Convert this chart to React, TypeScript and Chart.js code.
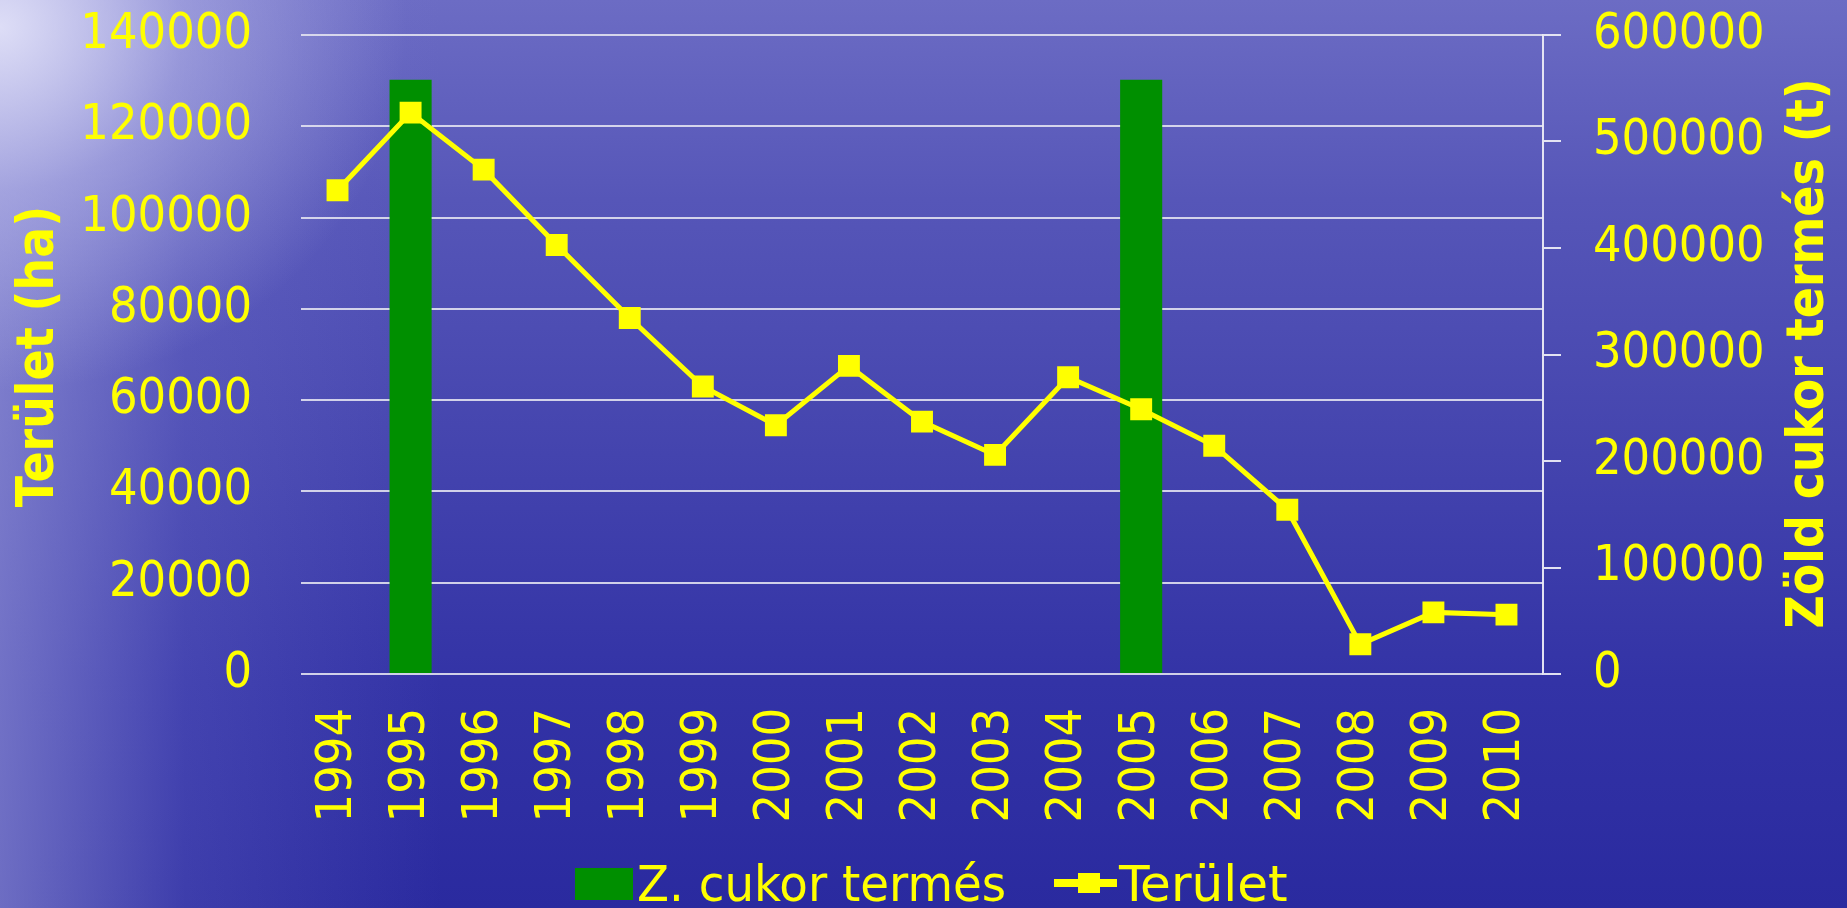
import React, { useEffect, useRef } from "react";
import { Chart, registerables } from "chart.js";

Chart.register(...registerables);

const years = ["1994","1995","1996","1997","1998","1999","2000","2001","2002","2003","2004","2005","2006","2007","2008","2009","2010"];
const teruletHa = [106000,123000,110500,94000,78000,63000,54500,67500,55300,48000,65000,58000,50000,36000,6500,13500,13000];
const cukorTermesT = [null,558000,null,null,null,null,null,null,null,null,null,558000,null,null,null,null,null];
const leftAxisMax = 140000;
const leftAxisStep = 20000;
const rightAxisMax = 600000;
const rightAxisStep = 100000;
const leftTitle = "Terület (ha)";
const rightTitle = "Zöld cukor termés (t)";
const barLabel = "Z. cukor termés";
const lineLabel = "Terület";

const YELLOW = "#ffff00";
const GREEN = "#008f00";
const COND = "'DejaVu Sans Condensed', 'DejaVu Sans', sans-serif";

const decorPlugin = {
  id: "decor",
  afterDraw(chart: any) {
    const ctx = chart.ctx as CanvasRenderingContext2D;
    const area = chart.chartArea;
    const midY = (area.top + area.bottom) / 2;
    ctx.save();
    ctx.fillStyle = YELLOW;
    ctx.font = `bold 51px ${COND}`;
    ctx.textAlign = "center";
    ctx.textBaseline = "middle";
    ctx.save();
    ctx.translate(40, midY + 2);
    ctx.rotate(-Math.PI / 2);
    ctx.fillText(leftTitle, 0, 0);
    ctx.restore();
    ctx.save();
    ctx.translate(1810, midY - 1);
    ctx.rotate(-Math.PI / 2);
    ctx.fillText(rightTitle, 0, 0);
    ctx.restore();

    // legend
    const ly = 883;
    ctx.fillStyle = GREEN;
    ctx.fillRect(575, 868, 58, 32);
    ctx.fillStyle = YELLOW;
    ctx.textAlign = "left";
    ctx.textBaseline = "alphabetic";
    ctx.font = `46px ${COND}`;
    ctx.save();
    ctx.translate(637, 901);
    ctx.scale(1.13, 1.1);
    ctx.fillText(barLabel, 0, 0);
    ctx.restore();
    ctx.strokeStyle = YELLOW;
    ctx.lineWidth = 8;
    ctx.beginPath();
    ctx.moveTo(1054, ly);
    ctx.lineTo(1117, ly);
    ctx.stroke();
    ctx.fillRect(1078, ly - 10, 22, 20);
    ctx.save();
    ctx.translate(1119, 901);
    ctx.scale(1.21, 1.1);
    ctx.fillText(lineLabel, 0, 0);
    ctx.restore();
    ctx.restore();
  },
};

export default function App() {
  const ref = useRef<HTMLCanvasElement | null>(null);

  useEffect(() => {
    document.body.style.margin = "0";
    const canvas = ref.current!;
    const chart = new Chart(canvas, {
      type: "bar",
      data: {
        labels: years,
        datasets: [
          {
            type: "bar",
            label: barLabel,
            data: cukorTermesT as any,
            yAxisID: "y1",
            backgroundColor: GREEN,
            borderWidth: 0,
            categoryPercentage: 0.8,
            barPercentage: 0.72,
            order: 2,
          },
          {
            type: "line",
            label: lineLabel,
            data: teruletHa,
            yAxisID: "y",
            borderColor: YELLOW,
            borderWidth: 5,
            pointStyle: "rect",
            pointRadius: 15.5,
            pointBackgroundColor: YELLOW,
            pointBorderWidth: 0,
            tension: 0,
            order: 1,
          } as any,
        ],
      },
      options: {
        responsive: false,
        animation: false,
        devicePixelRatio: 1,
        layout: { padding: { top: 0, left: 0, right: 0, bottom: 0 } },
        plugins: {
          legend: { display: false },
          tooltip: { enabled: false },
        },
        scales: {
          x: {
            offset: true,
            grid: { display: false, drawTicks: false },
            border: { display: false },
            ticks: {
              color: YELLOW,
              font: { family: COND, size: 50 },
              maxRotation: 90,
              minRotation: 90,
              padding: 34,
              autoSkip: false,
            },
            afterFit: (s: any) => {
              s.height = 234;
            },
          },
          y: {
            position: "left",
            min: 0,
            max: leftAxisMax,
            ticks: {
              stepSize: leftAxisStep,
              color: YELLOW,
              font: { family: COND, size: 50 },
              padding: 49,
              callback: (v: any) => String(v),
            },
            grid: {
              color: "rgba(225,225,240,0.9)",
              lineWidth: 2,
              drawTicks: false,
            },
            border: { display: false },
            afterFit: (s: any) => {
              s.width = 301;
              s.paddingTop = 35;
            },
          },
          y1: {
            position: "right",
            min: 0,
            max: rightAxisMax,
            ticks: {
              stepSize: rightAxisStep,
              color: YELLOW,
              font: { family: COND, size: 50 },
              padding: 32,
              callback: (v: any) => String(v),
            },
            grid: {
              drawOnChartArea: false,
              drawTicks: true,
              tickLength: 18,
              color: "rgba(235,235,245,0.95)",
              lineWidth: 2,
            },
            border: { display: true, color: "rgba(235,235,245,0.95)", width: 2 },
            afterFit: (s: any) => {
              s.width = 304;
              s.paddingTop = 35;
            },
          },
        },
      },
      plugins: [decorPlugin],
    });
    return () => chart.destroy();
  }, []);

  return (
    <div
      style={{
        position: "fixed",
        left: 0,
        top: 0,
        width: 1847,
        height: 908,
        background:
          "radial-gradient(ellipse 22% 40% at 0% 3%, rgba(230,230,250,0.9) 0%, rgba(195,195,238,0.5) 45%, rgba(160,160,225,0) 100%)," +
          "linear-gradient(to right, rgba(175,175,230,0.5) 0%, rgba(130,130,215,0.22) 10%, rgba(0,0,0,0) 24%)," +
          "linear-gradient(to bottom, #6c6cc4 0%, #5656b8 22%, #4444ae 50%, #3333a6 75%, #2a2a9f 100%)",
      }}
    >
      <canvas ref={ref} width={1847} height={908} style={{ display: "block", width: 1847, height: 908 }} />
    </div>
  );
}
